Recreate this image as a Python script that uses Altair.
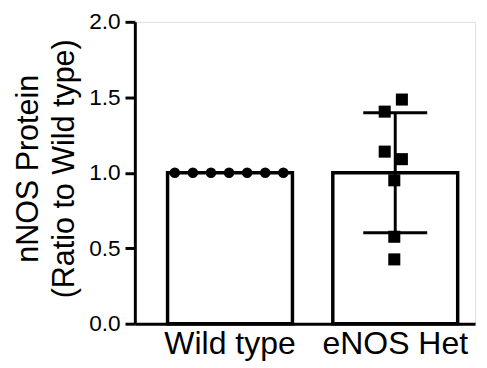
import altair as alt
import pandas as pd

# ---- data ----
groups = ["Wild type", "eNOS Het"]
bar_means = [1.0, 1.0]
bar_sd = [0.0, 0.397]

wt_values = [1.0, 1.0, 1.0, 1.0, 1.0, 1.0, 1.0]
wt_offsets = [-3, -2, -1, 0, 1, 2, 3]

het_values = [1.485, 1.405, 1.14, 1.09, 0.95, 0.576, 0.426]
het_offsets = [0.42, -0.53, -0.53, 0.42, 0.0, 0.0, 0.0]

y_ticks = [0.0, 0.5, 1.0, 1.5, 2.0]

bars = pd.DataFrame({"group": groups, "mean": bar_means, "sd": bar_sd})
bars["lo"] = bars["mean"] - bars["sd"]
bars["hi"] = bars["mean"] + bars["sd"]
err = bars[bars["sd"] > 0]

wt = pd.DataFrame({"group": groups[0], "value": wt_values, "off": wt_offsets})
het = pd.DataFrame({"group": groups[1], "value": het_values, "off": het_offsets})

FONT = "Liberation Sans"

x_enc = alt.X(
    "group:N",
    sort=groups,
    title=None,
    scale=alt.Scale(paddingInner=0.231, paddingOuter=0.145, align=0.66),
    axis=alt.Axis(labelAngle=0, labelFontSize=32.5, ticks=False, labelPadding=4,
                  domainWidth=3, domainColor="black", labelColor="black",
                  labelFont=FONT),
)
y_scale = alt.Scale(domain=[0, 2], nice=False)
y_axis = alt.Axis(
    values=y_ticks, format=".1f", labelFontSize=23, labelFont=FONT,
    tickSize=10, tickWidth=3, tickColor="black", domainWidth=3, domainColor="black",
    labelColor="black", labelPadding=5, grid=False,
    title=["nNOS Protein", "(Ratio to Wild type)"], titleFontSize=31,
    titleFont=FONT, titleFontWeight="normal", titleColor="black",
    titleLineHeight=37, titleAngle=270, titleBaseline="alphabetic",
    titleX=-99, titleY=149, titleAlign="center",
)

off_scale = alt.Scale(domain=[-3.46, 3.46], range=[0, 127.3])

bar_layer = alt.Chart(bars).mark_bar(fill="white", stroke="black", strokeWidth=3.5, width=127).encode(
    x=x_enc,
    y=alt.Y("mean:Q", scale=y_scale, axis=y_axis),
)

rule_layer = alt.Chart(err).mark_rule(color="black", strokeWidth=3, opacity=1).encode(
    x=alt.X("group:N", sort=groups),
    y="lo:Q",
    y2="hi:Q",
)
cap_hi = alt.Chart(err).mark_tick(color="black", size=65, thickness=3, orient="horizontal", opacity=1).encode(
    x=alt.X("group:N", sort=groups), y="hi:Q"
)
cap_lo = alt.Chart(err).mark_tick(color="black", size=65, thickness=3, orient="horizontal", opacity=1).encode(
    x=alt.X("group:N", sort=groups), y="lo:Q"
)

wt_layer = alt.Chart(wt).mark_point(shape="circle", filled=True, color="black", size=115, opacity=1).encode(
    x=alt.X("group:N", sort=groups),
    xOffset=alt.XOffset("off:Q", scale=off_scale),
    y="value:Q",
)
het_layer = alt.Chart(het).mark_point(shape="square", filled=True, color="black", size=150, opacity=1).encode(
    x=alt.X("group:N", sort=groups),
    xOffset=alt.XOffset("off:Q", scale=off_scale),
    y="value:Q",
)

chart = alt.layer(bar_layer, rule_layer, cap_hi, cap_lo, wt_layer, het_layer).properties(
    width=346,
    height=307,
    autosize=alt.AutoSizeParams(type="none"),
    padding={"left": 129, "top": 11, "right": 4, "bottom": 42},
).configure_view(stroke=None).configure(font=FONT, background="white")

chart.save("out.html", embed_options={"renderer": "svg", "actions": False})
